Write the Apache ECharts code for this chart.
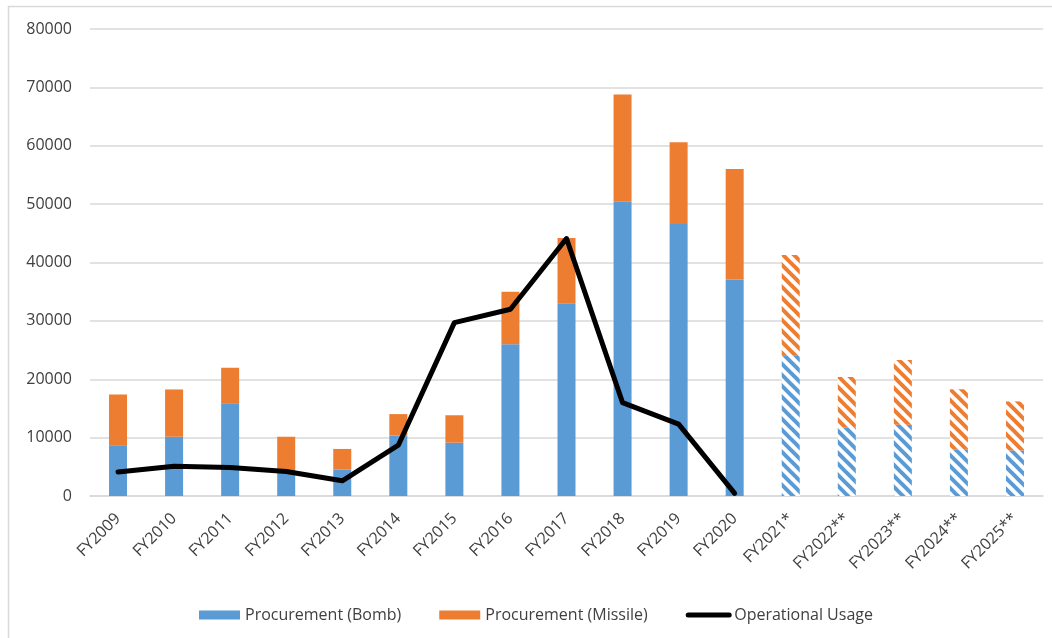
<!DOCTYPE html>
<html>
<head>
<meta charset="utf-8">
<script src="https://cdn.jsdelivr.net/npm/echarts@6/dist/echarts.min.js"></script>
<style>
html,body{margin:0;padding:0;background:#fff;}
#chart{width:1052px;height:638px;}
</style>
</head>
<body>
<div id="chart"></div>
<script>
var categories = ['FY2009','FY2010','FY2011','FY2012','FY2013','FY2014','FY2015','FY2016','FY2017','FY2018','FY2019','FY2020','FY2021*','FY2022**','FY2023**','FY2024**','FY2025**'];
var bombValues = [8700, 10150, 15870, 4450, 4560, 10330, 9130, 26000, 33000, 50400, 46600, 37100, 24100, 11700, 12200, 8000, 7800];
var missileValues = [8700, 8100, 6100, 5700, 3500, 3700, 4700, 9000, 11200, 18400, 14000, 18900, 17200, 8700, 11100, 10300, 8400];
var usageValues = [4100, 5100, 4900, 4200, 2600, 8700, 29700, 32000, 44100, 16000, 12300, 450, null, null, null, null, null];
var yTicks = {min: 0, max: 80000, interval: 10000};

function makePattern(color) {
  var s = 11;
  var c = document.createElement('canvas');
  c.width = s; c.height = s;
  var ctx = c.getContext('2d');
  ctx.fillStyle = '#ffffff';
  ctx.fillRect(0, 0, s, s);
  ctx.strokeStyle = color;
  ctx.lineWidth = 4;
  for (var k = -1; k <= 1; k++) {
    ctx.beginPath();
    ctx.moveTo(k * s - 2, -2);
    ctx.lineTo(k * s + s + 2, s + 2);
    ctx.stroke();
  }
  return {image: c, repeat: 'repeat'};
}

var BLUE = '#5b9bd5', ORANGE = '#ed7d31';
var bluePat = makePattern(BLUE), orangePat = makePattern(ORANGE);

function barData(values, pattern) {
  return values.map(function (v, i) {
    if (categories[i].indexOf('*') >= 0) {
      return {value: v, itemStyle: {color: pattern}};
    }
    return v;
  });
}

var txt = '#404040';
var font = 'Open Sans';

var chart = echarts.init(document.getElementById('chart'));
chart.setOption({
  animation: false,
  textStyle: {fontFamily: font},
  graphic: [{
    type: 'rect',
    shape: {x: 8.5, y: 6.5, width: 1200, height: 800},
    style: {fill: 'none', stroke: '#d9d9d9', lineWidth: 1.5},
    silent: true
  }],
  grid: {left: 90, right: 9, top: 29, bottom: 142, containLabel: false},
  legend: {
    left: 194,
    top: 602,
    itemWidth: 41,
    itemHeight: 9,
    itemGap: 38,
    textStyle: {fontSize: 16, color: txt, fontFamily: font},
    data: [
      {name: 'Procurement (Bomb)', icon: 'rect'},
      {name: 'Procurement (Missile)', icon: 'rect'},
      {name: 'Operational Usage', itemStyle: {opacity: 0}, lineStyle: {width: 5, color: '#000000', cap: 'round'}}
    ]
  },
  xAxis: {
    type: 'category',
    data: categories,
    axisLine: {lineStyle: {color: '#d9d9d9', width: 1.5}},
    axisTick: {show: false},
    axisLabel: {rotate: 45, fontSize: 16, color: txt, margin: 20, interval: 0, fontFamily: font}
  },
  yAxis: {
    type: 'value',
    min: yTicks.min,
    max: yTicks.max,
    interval: yTicks.interval,
    axisLine: {show: false},
    axisTick: {show: false},
    splitLine: {lineStyle: {color: '#d9d9d9', width: 1.5}},
    axisLabel: {fontSize: 16, color: txt, margin: 18, fontFamily: font, formatter: function (v) { return String(v); }}
  },
  series: [
    {
      name: 'Procurement (Bomb)',
      type: 'bar',
      stack: 'p',
      barWidth: 18,
      itemStyle: {color: BLUE},
      data: barData(bombValues, bluePat)
    },
    {
      name: 'Procurement (Missile)',
      type: 'bar',
      stack: 'p',
      barWidth: 18,
      itemStyle: {color: ORANGE},
      data: barData(missileValues, orangePat)
    },
    {
      name: 'Operational Usage',
      type: 'line',
      symbol: 'none',
      lineStyle: {color: '#000000', width: 5, cap: 'round', join: 'round'},
      itemStyle: {color: '#000000'},
      data: usageValues
    }
  ]
});
</script>
</body>
</html>
